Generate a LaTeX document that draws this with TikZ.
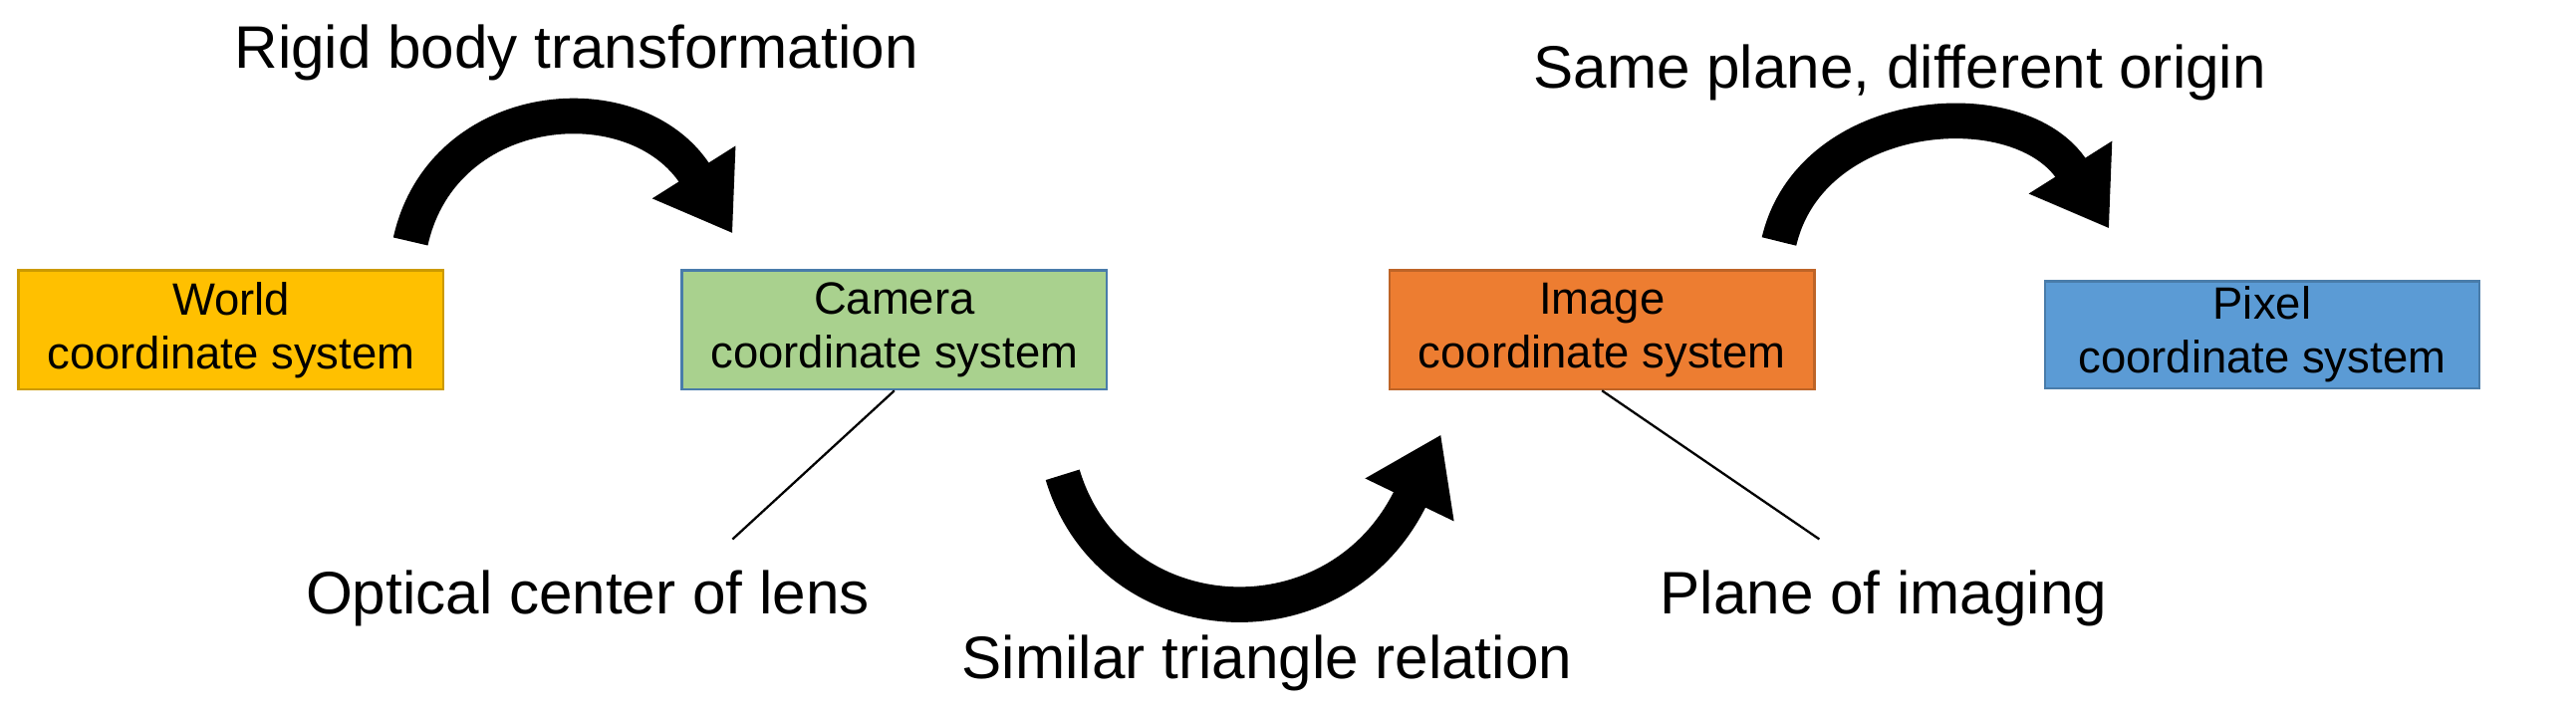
\documentclass[tikz,border=0pt]{standalone}
\usepackage{fontspec}
\setmainfont{Liberation Sans}
\usetikzlibrary{arrows.meta}
\definecolor{worldc}{HTML}{FFC000}
\definecolor{camc}{HTML}{A9D18E}
\definecolor{imgc}{HTML}{ED7D31}
\definecolor{pixc}{HTML}{5B9BD5}
\begin{document}
\begin{tikzpicture}[
    system/.style={draw, minimum width=2.64cm, minimum height=0.74cm, align=center, font=\fontsize{8}{9.5}\selectfont, inner sep=1pt},
    caption/.style={font=\fontsize{10.6}{12}\selectfont},
    bigarrow/.style={-{Triangle[length=0.45cm, width=0.58cm]}, line width=0.22cm},
    pointer/.style={thin}
]
    \useasboundingbox (0,0) rectangle (16,-4.393);

    % Coordinate systems
    \node[system, fill=worldc, draw=worldc!80!black] (world) at (1.435,-2.05) {World\\coordinate system};
    \node[system, fill=camc, draw=pixc!80!black] (camera) at (5.555,-2.05) {Camera\\coordinate system};
    \node[system, fill=imgc, draw=imgc!80!black] (image) at (9.95,-2.05) {Image\\coordinate system};
    \node[system, fill=pixc, draw=pixc!80!black, minimum width=2.7cm, minimum height=0.66cm] (pixel) at (14.05,-2.08) {Pixel\\coordinate system};

    % Captions
    \node[caption] (rigid) at (3.58,-0.33) {Rigid body transformation};
    \node[caption] (optical) at (3.65,-3.72) {Optical center of lens};
    \node[caption] (similar) at (7.87,-4.12) {Similar triangle relation};
    \node[caption] (plane) at (11.7,-3.72) {Plane of imaging};
    \node[caption] (same) at (11.8,-0.45) {Same plane, different origin};

    % Pointer lines
    \coordinate (opticalend) at (4.55,-3.35);
    \coordinate (planeend) at (11.3,-3.35);
    \draw[pointer] (camera.south) -- (opticalend);
    \draw[pointer] (image.south) -- (planeend);

    % Transformation arrows
    \coordinate (a1) at (2.55,-1.5);
    \coordinate (b1) at (4.55,-1.45);
    \coordinate (a2) at (6.6,-2.95);
    \coordinate (b2) at (8.95,-2.7);
    \coordinate (a3) at (11.05,-1.5);
    \coordinate (b3) at (13.1,-1.42);
    \draw[bigarrow] (a1) .. controls (2.75,-0.6) and (3.95,-0.5) .. (b1);
    \draw[bigarrow] (a2) .. controls (6.9,-3.95) and (8.3,-4.05) .. (b2);
    \draw[bigarrow] (a3) .. controls (11.25,-0.65) and (12.55,-0.55) .. (b3);
\end{tikzpicture}
\end{document}
